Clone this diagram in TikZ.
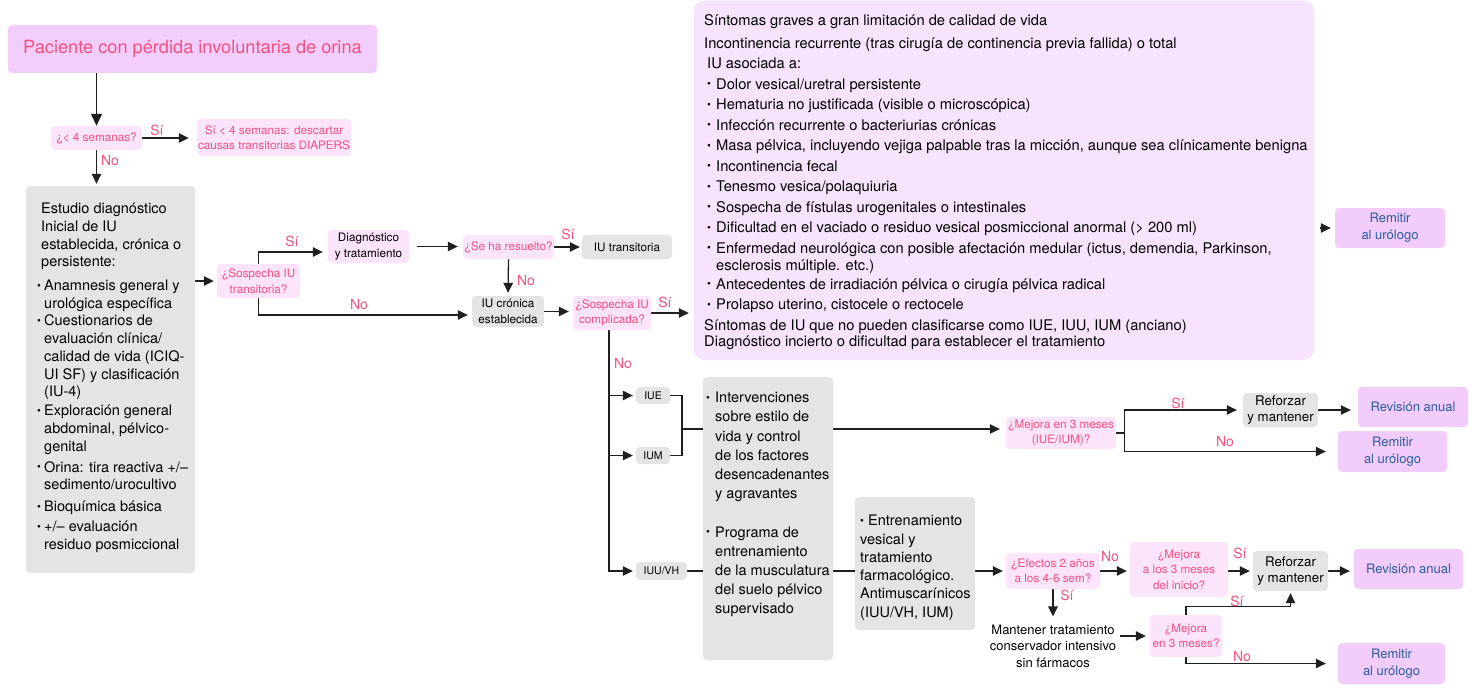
\documentclass[tikz,border=0pt]{standalone}
\usepackage{fontspec}
\setmainfont{TeX Gyre Heros}
\usetikzlibrary{arrows.meta,calc}
\pgfdeclarelayer{bg}
\pgfsetlayers{bg,main}
\definecolor{pinkt}{HTML}{F2527F}
\definecolor{ttlfill}{HTML}{F3CDFB}
\definecolor{qfill}{HTML}{FCE4FC}
\definecolor{greyf}{HTML}{E4E4E4}
\definecolor{bigf}{HTML}{F8E3FC}
\definecolor{reff}{HTML}{F2CCFA}
\definecolor{bluet}{HTML}{2B5CA0}
\newcommand{\fsz}[2]{\fontsize{#1}{#2}\selectfont}
\newcommand{\bul}[1][9pt]{\makebox[#1][l]{\raisebox{0.09em}{\scalebox{0.75}{\textbullet}}}}
\begin{document}
\begin{tikzpicture}[x=1pt,y=-1pt,
  box/.style={rectangle, rounded corners=4pt, inner sep=0pt, align=center},
  qbox/.style={box, fill=qfill, text=pinkt, font=\fsz{11.7}{15.5}},
  gbox/.style={box, fill=greyf, text=black, font=\fsz{11.7}{15.5}},
  rbox/.style={box, fill=reff, text=bluet, font=\fsz{13}{17}},
  lbl/.style={text=pinkt, font=\fsz{14}{16}, inner sep=0pt},
  ln/.style={draw=black!88, line width=1.3pt},
  arr/.style={ln, -{Triangle[length=10pt,width=9.5pt]}}
]
\useasboundingbox (0,0) rectangle (1479,698);

% nodes
\node[box, fill=ttlfill, text=pinkt, font=\fsz{18.2}{20}, minimum width=369, minimum height=48] (title) at (192.5,49) {Paciente con pérdida involuntaria de orina};
\node[qbox, minimum width=91, minimum height=24] (q1) at (96.5,138) {¿< 4 semanas?};
\node[qbox, minimum width=154, minimum height=37] (diapers) at (274,137.5) {Sí < 4 semanas: descartar\\causas transitorias DIAPERS};
\node[box, fill=greyf, minimum width=169, minimum height=387] (study) at (110.5,379.5) {};
\node[anchor=north west, inner sep=0pt, align=left, font=\fsz{14.5}{17.7}] (studytxt) at (37,203) {\hspace*{4pt}Estudio diagnóstico\\
\hspace*{4pt}Inicial de IU\\
\hspace*{4pt}establecida, crónica o\\
\hspace*{4pt}persistente:\\[6pt]
\bul[7pt]Anamnesis general y\\
\hspace*{7pt}urológica específica\\
\bul[7pt]Cuestionarios de\\
\hspace*{7pt}evaluación clínica/\\
\hspace*{7pt}calidad de vida (ICIQ-\\
\hspace*{7pt}UI SF) y clasificación\\
\hspace*{7pt}(IU-4)\\[1.5pt]
\bul[7pt]Exploración general\\
\hspace*{7pt}abdominal, pélvico-\\
\hspace*{7pt}genital\\[3pt]
\bul[7pt]Orina: tira reactiva +/–\\
\hspace*{7pt}sedimento/urocultivo\\[4pt]
\bul[7pt]Bioquímica básica\\[2.5pt]
\bul[7pt]+/– evaluación\\
\hspace*{7pt}residuo posmiccional};

\node[qbox, minimum width=83, minimum height=34] (q2) at (258.5,281) {¿Sospecha IU\\transitoria?};
\node[qbox, text=black, font=\fsz{11.7}{15.5}, minimum width=81, minimum height=33] (dx) at (368.5,246.5) {Diagnóstico\\y tratamiento};
\node[qbox, minimum width=91, minimum height=24] (q3) at (508.5,247) {¿Se ha resuelto?};
\node[gbox, minimum width=90, minimum height=24] (iut) at (627,247) {IU transitoria};
\node[gbox, minimum width=72, minimum height=31] (iuc) at (508,311.5) {IU crónica\\establecida};
\node[qbox, minimum width=78, minimum height=34] (q4) at (612,313) {¿Sospecha IU\\complicada?};

\node[box, fill=bigf, rounded corners=10pt, minimum width=620, minimum height=359.5] (big) at (1004,180.25) {};
\node[anchor=north west, inner sep=0pt, align=left, font=\fsz{14.7}{20.5}] (bigtxt) at (704,14) {Síntomas graves a gran limitación de calidad de vida\\[2.5pt]
Incontinencia recurrente (tras cirugía de continencia previa fallida) o total\\
\hspace*{3pt}IU asociada a:\\
\hspace*{3pt}\bul Dolor vesical/uretral persistente\\
\hspace*{3pt}\bul Hematuria no justificada (visible o microscópica)\\
\hspace*{3pt}\bul Infección recurrente o bacteriurias crónicas\\
\hspace*{3pt}\bul Masa pélvica, incluyendo vejiga palpable tras la micción, aunque sea clínicamente benigna\\
\hspace*{3pt}\bul Incontinencia fecal\\
\hspace*{3pt}\bul Tenesmo vesica/polaquiuria\\
\hspace*{3pt}\bul Sospecha de fístulas urogenitales o intestinales\\
\hspace*{3pt}\bul Dificultad en el vaciado o residuo vesical posmiccional anormal (> 200 ml)\\
\hspace*{3pt}\bul Enfermedad neurológica con posible afectación medular (ictus, demendia, Parkinson,\\[-3.5pt]
\hspace*{12pt}esclerosis múltiple. etc.)\\[-1.5pt]
\hspace*{3pt}\bul Antecedentes de irradiación pélvica o cirugía pélvica radical\\
\hspace*{3pt}\bul Prolapso uterino, cistocele o rectocele\\
Síntomas de IU que no pueden clasificarse como IUE, IUU, IUM (anciano)\\[-4.5pt]
Diagnóstico incierto o dificultad para establecer el tratamiento};
\node[rbox, minimum width=110, minimum height=40] (ref1) at (1390,228) {Remitir\\al urólogo};

\node[gbox, font=\fsz{10.5}{12}, minimum width=34, minimum height=17] (iue) at (653,395.5) {IUE};
\node[gbox, font=\fsz{10.5}{12}, minimum width=34, minimum height=17] (ium) at (653,455.5) {IUM};
\node[gbox, font=\fsz{10.5}{12}, minimum width=51, minimum height=18] (iuu) at (661.5,571) {IUU/VH};

\node[box, fill=greyf, minimum width=130, minimum height=283] (grey2) at (768,518.5) {};
\node[anchor=north west, inner sep=0pt, align=left, font=\fsz{14.5}{19.2}] (g2txt) at (706,392) {\bul Intervenciones\\
\hspace*{9pt}sobre estilo de\\
\hspace*{9pt}vida y control\\
\hspace*{9pt}de los factores\\
\hspace*{9pt}desencadenantes\\
\hspace*{9pt}y agravantes\\[19.2pt]
\bul Programa de\\
\hspace*{9pt}entrenamiento\\
\hspace*{9pt}de la musculatura\\
\hspace*{9pt}del suelo pélvico\\
\hspace*{9pt}supervisado};

\node[box, fill=greyf, minimum width=120, minimum height=133] (grey3) at (915,563.5) {};
\node[anchor=north west, inner sep=0pt, align=left, font=\fsz{14.5}{18.3}] (g3txt) at (860,515) {\bul[8pt]Entrenamiento\\vesical y\\tratamiento\\farmacológico.\\Antimuscarínicos\\(IUU/VH, IUM)};

\node[qbox, minimum width=110, minimum height=32] (q5) at (1061,433) {¿Mejora en 3 meses\\(IUE/IUM)?};
\node[gbox, font=\fsz{13.3}{16.5}, minimum width=75, minimum height=34] (rf1) at (1280.5,410) {Reforzar\\y mantener};
\node[rbox, minimum width=110, minimum height=40] (rev1) at (1413,407) {Revisión anual};
\node[rbox, minimum width=109, minimum height=41] (ref2) at (1392.5,451.5) {Remitir\\al urólogo};

\node[qbox, minimum width=94, minimum height=36] (q6) at (1053,571) {¿Efectos 2 años\\a los 4-6 sem?};
\node[qbox, minimum width=98, minimum height=55] (q7) at (1179,569.5) {¿Mejora\\a los 3 meses\\del inicio?};
\node[gbox, font=\fsz{13.3}{16.5}, minimum width=75, minimum height=40] (rf2) at (1290.5,571) {Reforzar\\y mantener};
\node[rbox, minimum width=109, minimum height=40] (rev2) at (1408.5,569) {Revisión anual};
\node[inner sep=0pt, align=center, font=\fsz{13}{16.5}] (mant) at (1053,646) {Mantener tratamiento\\conservador intensivo\\sin fármacos};
\node[qbox, minimum width=72, minimum height=42] (q8) at (1186,636) {¿Mejora\\en 3 meses?};
\node[rbox, minimum width=107, minimum height=41] (ref3) at (1391.5,663.5) {Remitir\\al urólogo};

\coordinate (vt) at (609,330);
\coordinate (brk) at (682,429);

% labels
\node[lbl] (l1) at (157,130) {Sí};
\node[lbl] (l2) at (110,161) {No};
\node[lbl] (l3) at (292,241) {Sí};
\node[lbl] (l4) at (359,304) {No};
\node[lbl] (l5) at (568,234) {Sí};
\node[lbl] (l6) at (526,280) {No};
\node[lbl] (l7) at (665,302) {Sí};
\node[lbl] (l8) at (623,363) {No};
\node[lbl] (l9) at (1178,403) {Sí};
\node[lbl] (l10) at (1225,441) {No};
\node[lbl] (l11) at (1110,556) {No};
\node[lbl] (l12) at (1240,553) {Sí};
\node[lbl] (l13) at (1067,595) {Sí};
\node[lbl] (l14) at (1237,601) {Sí};
\node[lbl] (l15) at (1242,656) {No};

% connectors
\begin{pgfonlayer}{bg}
\draw[arr, -{Triangle[length=12pt,width=11pt]}] (title.south -| q1.north) -- (q1.north);
\draw[arr, shorten >=8pt] (q1.east) -- (diapers.west |- q1.east);
\draw[arr, shorten >=2pt] (q1.south) -- (study.north -| q1.south);
\draw[arr, shorten >=3pt] (study.east |- q2.west) -- (q2.west);
\draw[arr, shorten >=5pt] (q2.north) |- ([yshift=-5.5pt]dx.west);
\draw[arr, shorten >=4pt] (q2.south) |- ([yshift=-3.5pt]iuc.west);
\draw[arr, shorten <=8pt, shorten >=5pt] (dx.east) -- (q3.west |- dx.east);
\draw[arr, shorten >=2pt] (q3.east) -- (iut.west);
\draw[arr, shorten >=3pt] (q3.south) -- (iuc.north);
\draw[arr, shorten >=4pt] (iuc.east) -- (q4.west |- iuc.east);
\draw[arr, shorten >=5pt] (q4.east) -- (big.west |- q4.east);
\draw[arr, shorten <=6pt, shorten >=4pt] (big.east |- ref1.west) -- (ref1.west);
\draw[arr, shorten >=3pt] (vt) |- (iuu.west);
\draw[arr, shorten >=3pt] (vt |- iue.west) -- (iue.west);
\draw[arr, shorten >=3pt] (vt |- ium.west) -- (ium.west);
\draw[ln] (iue.east) -| (brk) |- (ium.east);
\draw[arr, shorten >=6pt] (brk) -- (q5.west |- brk);
\draw[ln] (iuu.east) -- (grey3.west |- iuu.east);
\draw[arr, shorten >=3pt] (grey3.east |- q6.west) -- (q6.west);
\draw[arr, shorten >=3pt] (q6.east) -- (q7.west |- q6.east);
\draw[arr, shorten >=3pt] (q7.east |- rf2.west) -- (rf2.west);
\draw[arr, shorten >=4pt] (rf2.east) -- (rev2.west |- rf2.east);
\draw[arr, shorten >=8pt] (q6.south) -- (mant.north -| q6.south);
\draw[arr, shorten <=4pt, shorten >=4pt] (q8.west -| mant.east) -- (q8.west);
\draw[arr, shorten >=2pt] (q8.north) -- ++(0,-8) -| (rf2.south);
\draw[arr, shorten >=12pt] (q8.south) |- (ref3.west);
\draw[arr, shorten >=6pt] (q5.east) -- ++(8,0) |- (rf1.west);
\draw[arr, shorten >=12pt] (q5.east) -- ++(8,0) |- (ref2.west);
\draw[arr, shorten >=7pt] (rf1.east) -- (rev1.west |- rf1.east);
\end{pgfonlayer}
\end{tikzpicture}
\end{document}
